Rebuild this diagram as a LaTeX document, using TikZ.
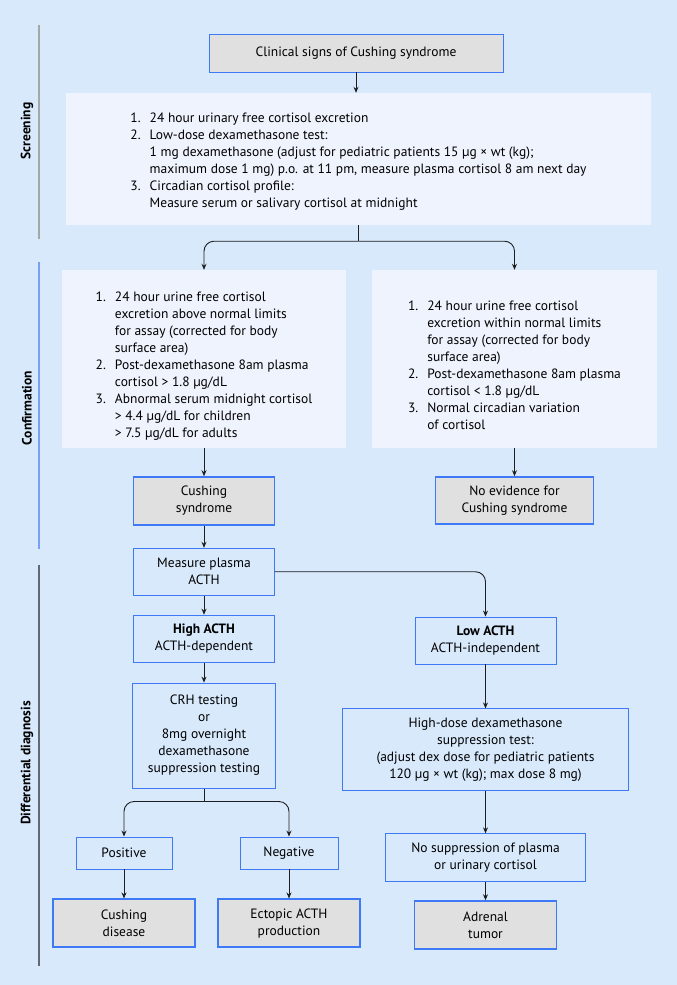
\documentclass[tikz,border=0pt]{standalone}
\usepackage{fontspec}
\setmainfont{PT Sans}
\usetikzlibrary{positioning, arrows.meta}

\definecolor{bgblue}{RGB}{216,233,252}
\definecolor{lightfill}{RGB}{239,243,253}
\definecolor{grayfill}{RGB}{224,224,224}
\definecolor{edgeblue}{RGB}{62,122,245}
\definecolor{linec}{RGB}{30,30,30}
\definecolor{bargray}{RGB}{166,166,166}
\definecolor{barblue}{RGB}{120,160,245}
\definecolor{bardark}{RGB}{100,104,112}

% lowers the ink of a list, keeps its size
\newcommand{\lowerlist}[2]{\raisebox{-#1}[\height][\depth]{#2}}

\tikzset{
    >={Stealth[length=6pt,width=5pt]}, % small solid heads
    every node/.style={font=\fontsize{13.5}{17}\selectfont, text=black, inner sep=0pt},
    listbox/.style={fill=lightfill, align=left}, % the big text panels
    outbox/.style={fill=grayfill, draw=edgeblue, line width=1.6pt, align=center}, % results
    stepbox/.style={draw=edgeblue, line width=0.9pt, align=center}, % steps
    flow/.style={draw=linec, line width=0.9pt, ->},
    sidebar/.style={line width=2pt},
    sidelabel/.style={rotate=90, font=\fontsize{13.5}{16}\selectfont\bfseries},
}

\begin{document}
\begin{tikzpicture}[x=1pt, y=1pt]
    \fill[bgblue] (0,0) rectangle (677,-985);
    \useasboundingbox (0,0) rectangle (677,-985);

    % section bars and labels
    \draw[sidebar, bargray] (39,-25) -- (39,-239);
    \draw[sidebar, barblue] (39,-262) -- (39,-549);
    \draw[sidebar, bardark] (39,-565) -- (39,-966);
    \node[sidelabel] (lscr) at (27,-131) {Screening};
    \node[sidelabel] (lcon) at (27,-408) {Confirmation};
    \node[sidelabel] (ldif) at (27,-763) {Differential diagnosis};

    % screening
    \node[outbox, line width=0.9pt, minimum width=294pt, minimum height=38pt] (clin) at (356,-53) {Clinical signs of Cushing syndrome};
    \node[listbox, minimum width=585pt, minimum height=132pt] (screen) at (358.5,-159) {\lowerlist{3pt}{%
        \begin{tabular}{@{}l@{\hspace{9pt}}l@{}}
        1. & 24 hour urinary free cortisol excretion\\
        2. & Low-dose dexamethasone test:\\
           & 1 mg dexamethasone (adjust for pediatric patients 15 µg × wt (kg);\\
           & maximum dose 1 mg) p.o. at 11 pm, measure plasma cortisol 8 am next day\\
        3. & Circadian cortisol profile:\\
           & Measure serum or salivary cortisol at midnight
        \end{tabular}}};

    % confirmation
    \node[listbox, minimum width=284pt, minimum height=178pt] (confL) at (204,-359) {\lowerlist{7pt}{%
        \begin{tabular}{@{}l@{\hspace{9pt}}l@{}}
        1. & 24 hour urine free cortisol\\
           & excretion above normal limits\\
           & for assay (corrected for body\\
           & surface area)\\
        2. & Post-dexamethasone 8am plasma\\
           & cortisol > 1.8 µg/dL\\
        3. & Abnormal serum midnight cortisol\\
           & > 4.4 µg/dL for children\\
           & > 7.5 µg/dL for adults
        \end{tabular}}};
    \node[listbox, minimum width=285pt, minimum height=178pt] (confR) at (514.5,-359) {\lowerlist{8pt}{%
        \begin{tabular}{@{}l@{\hspace{9pt}}l@{}}
        1. & 24 hour urine free cortisol\\
           & excretion within normal limits\\
           & for assay (corrected for body\\
           & surface area)\\
        2. & Post-dexamethasone 8am plasma\\
           & cortisol < 1.8 µg/dL\\
        3. & Normal circadian variation\\
           & of cortisol
        \end{tabular}}};
    \node[outbox, minimum width=141pt, minimum height=48pt, below=28pt of confL] (cush) {Cushing\\syndrome};
    \node[outbox, minimum width=158pt, minimum height=47pt, below=28pt of confR] (noev) {No evidence for\\Cushing syndrome};

    % differential diagnosis
    \node[stepbox, minimum width=141pt, minimum height=47pt, below=22pt of cush] (meas) {Measure plasma\\ACTH};
    \node[stepbox, minimum width=141pt, minimum height=47pt, below=19pt of meas] (high) {\textbf{High ACTH}\\ACTH-dependent};
    \node[stepbox, minimum width=143pt, minimum height=105pt, below=20pt of high] (crh) {CRH testing\\or\\8mg overnight\\dexamethasone\\suppression testing};
    \node[stepbox, minimum width=141pt, minimum height=47pt] (low) at (485.5,-640.5) {\textbf{Low ACTH}\\ACTH-independent};
    \node[stepbox, minimum width=286pt, minimum height=82pt, below=44pt of low] (hdd) {High-dose dexamethasone\\suppression test:\\(adjust dex dose for pediatric patients\\120 µg × wt (kg); max dose 8 mg)};
    \node[stepbox, minimum width=200pt, minimum height=48pt, below=42pt of hdd] (nosup) {No suppression of plasma\\or urinary cortisol};
    \node[outbox, minimum width=142pt, minimum height=48pt, below=18pt of nosup] (adre) {Adrenal\\tumor};
    \node[stepbox, minimum width=96pt, minimum height=32pt] (pos) at (124,-853) {Positive};
    \node[stepbox, minimum width=98pt, minimum height=32pt] (neg) at (289,-853) {Negative};
    \node[outbox, minimum width=142pt, minimum height=48pt, below=29pt of pos] (cdis) {Cushing\\disease};
    \node[outbox, minimum width=142pt, minimum height=48pt, below=29pt of neg] (ecto) {Ectopic ACTH\\production};

    % connectors
    \draw[flow] (clin) -- (clin |- screen.north);
    \draw[flow, -] (screen.south) -- ++(0,-16) coordinate (split1);
    \draw[flow, rounded corners=10pt] (split1) -| (confL.north);
    \draw[flow, rounded corners=10pt] (split1) -| (confR.north);
    \draw[flow] (cush.north |- confL.south) -- (cush.north);
    \draw[flow] (noev.north |- confR.south) -- (noev.north);
    \draw[flow] (cush) -- (meas);
    \draw[flow] (meas) -- (high);
    \draw[flow] (high) -- (crh);
    \draw[flow, rounded corners=10pt] (meas.east) -| (low.north);
    \draw[flow] (low) -- (hdd);
    \draw[flow] (hdd) -- (nosup);
    \draw[flow] (nosup) -- (adre);
    \draw[flow, -] (crh.south) -- ++(0,-13) coordinate (split2);
    \draw[flow, rounded corners=10pt] (split2) -| (pos.north);
    \draw[flow, rounded corners=10pt] (split2) -| (neg.north);
    \draw[flow] (pos) -- (cdis);
    \draw[flow] (neg) -- (ecto);
\end{tikzpicture}
\end{document}
